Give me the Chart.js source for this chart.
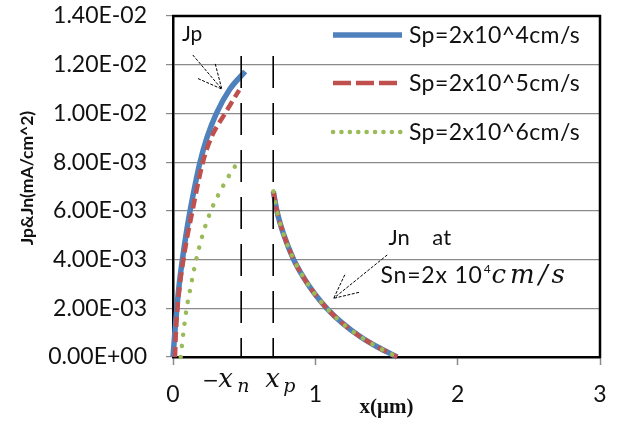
<!DOCTYPE html>
<html>
<head>
<meta charset="utf-8">
<script src="https://cdn.jsdelivr.net/npm/chart.js@4.4.0/dist/chart.umd.min.js"></script>
<style>
  html, body { margin: 0; padding: 0; background: #fff; }
</style>
</head>
<body>
<canvas id="myChart" width="618" height="421"></canvas>
<script>
// series labels
var seriesNames = ['Sp=2x10^4cm/s', 'Sp=2x10^5cm/s', 'Sp=2x10^6cm/s'];

// Jp branch, x in um, J in mA/cm^2
var jpX4 = [0, 0.013, 0.027, 0.044, 0.066, 0.091, 0.12, 0.153, 0.19, 0.238, 0.305, 0.40, 0.507];
var jpY4 = [0, 0.001, 0.002, 0.003, 0.004, 0.005, 0.006, 0.007, 0.008, 0.009, 0.010, 0.011, 0.01172];

var jpX5 = [0.014, 0.020, 0.031, 0.049, 0.073, 0.102, 0.137, 0.171, 0.21, 0.268, 0.366, 0.465];
var jpY5 = [0, 0.001, 0.002, 0.003, 0.004, 0.005, 0.006, 0.007, 0.008, 0.009, 0.010, 0.01096];

var jpX6 = [0.054, 0.073, 0.096, 0.128, 0.163, 0.207, 0.266, 0.35, 0.41, 0.477];
var jpY6 = [0, 0.001, 0.002, 0.003, 0.004, 0.005, 0.006, 0.007, 0.0076, 0.00817];

// Jn branch, same for all three (Sn=2x10^4 cm/s)
var jnX = [0.705, 0.73, 0.777, 0.847, 0.918, 1.0, 1.082, 1.188, 1.317, 1.434, 1.575];
var jnY = [0.0068, 0.0060, 0.00504, 0.00401, 0.00326, 0.00256, 0.00199, 0.0014, 0.00083, 0.00042, 0];

// depletion edges
var xn = 0.479, xp = 0.704, edgeTop = 0.01236;

var xTicks = [0, 1, 2, 3];

var tickFont = { family: 'Lato', size: 23 };
var textColor = '#111';

function pts(xs, ys) {
  return xs.map(function (x, i) { return { x: x, y: ys[i] }; });
}
function withJn(xs, ys) {
  return pts(xs, ys).concat([{ x: xp, y: null }], pts(jnX, jnY));
}
function sciLabel(v) {
  var s = Number(v).toExponential(2).split('e');
  var e = parseInt(s[1], 10);
  return s[0] + 'E' + (e < 0 ? '-' : '+') + String(Math.abs(e)).padStart(2, '0');
}
function noPad(s) {
  s.paddingTop = 0; s.paddingBottom = 0; s.paddingLeft = 0; s.paddingRight = 0;
}

var lineStyles = [
  { color: '#4F81BD', width: 5.5, dash: [], legendDash: [], cap: 'butt' },
  { color: '#C0504D', width: 4.5, dash: [10, 5], legendDash: [18, 5], cap: 'butt' },
  { color: '#9BBB59', width: 4.5, dash: [0.1, 11], legendDash: [0.1, 8.3], cap: 'round' }
];

var dataSets = [withJn(jpX4, jpY4), withJn(jpX5, jpY5), withJn(jpX6, jpY6)];

var datasets = dataSets.map(function (d, i) {
  var st = lineStyles[i];
  return {
    label: seriesNames[i],
    data: d,
    showLine: true,
    borderColor: st.color,
    backgroundColor: st.color,
    borderWidth: st.width,
    borderDash: st.dash,
    borderCapStyle: st.cap,
    pointRadius: 0,
    cubicInterpolationMode: 'monotone',
    spanGaps: false,
    clip: false,
    order: 3 - i
  };
});

[xn, xp].forEach(function (v) {
  datasets.push({
    label: '',
    data: [{ x: v, y: edgeTop }, { x: v, y: 0 }],
    showLine: true,
    borderColor: '#000',
    borderWidth: 1.6,
    borderDash: [32, 15],
    pointRadius: 0,
    order: 0
  });
});

function arrow(ctx, x0, y0, x1, y1) {
  ctx.save();
  ctx.strokeStyle = '#000';
  ctx.lineWidth = 1;
  ctx.setLineDash([3, 1.5]);
  ctx.beginPath();
  ctx.moveTo(x0, y0); ctx.lineTo(x1, y1);
  var a = Math.atan2(y1 - y0, x1 - x0);
  [0.45, -0.45].forEach(function (d) {
    ctx.moveTo(x1 - 26 * Math.cos(a + d), y1 - 26 * Math.sin(a + d));
    ctx.lineTo(x1, y1);
  });
  ctx.stroke();
  ctx.restore();
}

var decor = {
  id: 'decor',
  afterDraw: function (chart) {
    var ctx = chart.ctx, ca = chart.chartArea;
    var sx = chart.scales.x, sy = chart.scales.y;
    var X = function (v) { return sx.getPixelForValue(v); };
    var Y = function (v) { return sy.getPixelForValue(v); };
    ctx.save();

    // plot area frame (top / right)
    ctx.strokeStyle = '#000';
    ctx.lineWidth = 2.5;
    ctx.beginPath();
    ctx.moveTo(ca.left - 1, ca.top);
    ctx.lineTo(ca.right, ca.top);
    ctx.lineTo(ca.right, ca.bottom + 1);
    ctx.stroke();

    // legend
    ctx.font = '23px Lato';
    ctx.letterSpacing = '0.4px';
    ctx.textBaseline = 'middle';
    ctx.textAlign = 'left';
    var ly = [ca.top + 19, ca.top + 67, ca.top + 116];
    lineStyles.forEach(function (st, i) {
      ctx.save();
      ctx.strokeStyle = st.color;
      ctx.lineWidth = st.width;
      ctx.setLineDash(st.legendDash);
      ctx.lineCap = st.cap;
      ctx.beginPath();
      ctx.moveTo(ca.right - 267, ly[i]);
      ctx.lineTo(ca.right - 198, ly[i]);
      ctx.stroke();
      ctx.restore();
      ctx.fillStyle = textColor;
      ctx.fillText(seriesNames[i], ca.right - 191, ly[i] + 1);
    });
    ctx.letterSpacing = '0px';

    // axis titles
    ctx.fillStyle = textColor;
    ctx.save();
    ctx.translate(27, 178);
    ctx.rotate(-Math.PI / 2);
    ctx.textAlign = 'center';
    ctx.font = 'bold 17.5px Lato';
    ctx.fillText('Jp&Jn(mA/cm^2)', 0, 0);
    ctx.restore();

    ctx.textAlign = 'center';
    ctx.textBaseline = 'alphabetic';
    ctx.font = 'bold 21px "Liberation Serif"';
    ctx.fillText('x(\u03bcm)', (ca.left + ca.right) / 2, ca.bottom + 56);

    // Jp note
    ctx.textAlign = 'left';
    ctx.font = '21px Lato';
    ctx.fillText('Jp', X(0.063), Y(0.01298));
    arrow(ctx, X(0.139), Y(0.0124), X(0.343), Y(0.0110));

    // Jn note
    ctx.font = '22px Lato';
    ctx.fillText('Jn    at', X(1.514), Y(0.0046));
    ctx.font = '23px Lato';
    ctx.letterSpacing = '0.8px';
    var tx = X(1.458), ty = Y(0.00304);
    ctx.fillText('Sn=2x 10', tx, ty);
    tx += ctx.measureText('Sn=2x 10').width + 1;
    ctx.font = '12px Lato';
    ctx.fillText('4', tx, ty - 10);
    tx += ctx.measureText('4').width;
    ctx.font = 'italic 26px "DejaVu Serif"';
    ctx.letterSpacing = '4px';
    ctx.fillText('cm/s', tx, ty);
    ctx.letterSpacing = '0px';
    arrow(ctx, X(1.505), Y(0.00419), X(1.129), Y(0.00241));

    // -x_n and x_p marks under the axis
    var by = ca.bottom + 30;
    ctx.font = '20px "DejaVu Serif"';
    ctx.fillText('\u2212', X(xn) - 39, by);
    ctx.font = 'italic 26px "DejaVu Serif"';
    ctx.fillText('x', X(xn) - 23, by);
    ctx.fillText('x', X(xp) - 8, by);
    ctx.font = 'italic 19px "DejaVu Serif"';
    ctx.fillText('n', X(xn) - 4, by + 5);
    ctx.fillText('p', X(xp) + 10, by + 5);

    ctx.restore();
  }
};

var ctx = document.getElementById('myChart').getContext('2d');

var myChart = new Chart(ctx, {
  type: 'scatter',
  data: { datasets: datasets },
  options: {
    responsive: false,
    animation: false,
    devicePixelRatio: 1,
    layout: { padding: { top: 16, right: 18, left: 0, bottom: 0 } },
    plugins: {
      legend: { display: false },
      tooltip: { enabled: false }
    },
    scales: {
      x: {
        type: 'linear',
        min: 0,
        max: 3,
        afterBuildTicks: function (s) { s.ticks = xTicks.map(function (v) { return { value: v }; }); },
        afterFit: function (s) { s.height = 64; noPad(s); },
        ticks: { font: tickFont, color: textColor, padding: 16, maxRotation: 0 },
        grid: { drawOnChartArea: false, drawTicks: true, tickLength: 8, tickColor: '#8a8a8a', tickWidth: 1.5 },
        border: { color: '#000', width: 2.5 }
      },
      y: {
        min: 0,
        max: 0.014,
        afterFit: function (s) { s.width = 173; noPad(s); },
        ticks: { stepSize: 0.002, font: tickFont, color: textColor, padding: 19, callback: sciLabel },
        grid: { color: '#8a8a8a', lineWidth: 1.2, tickLength: 7, tickColor: '#8a8a8a' },
        border: { color: '#000', width: 2.5 }
      }
    }
  },
  plugins: [decor]
});
</script>
</body>
</html>
